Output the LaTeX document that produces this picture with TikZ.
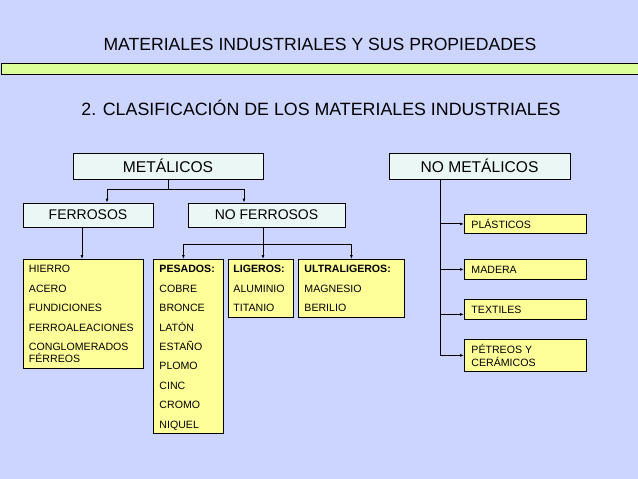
\documentclass[tikz,border=0pt]{standalone}
\usepackage{fontspec}
\setmainfont{Liberation Sans}
\usetikzlibrary{arrows.meta}
\definecolor{fondo}{RGB}{204,213,255}
\definecolor{caja}{RGB}{234,247,245}
\definecolor{amarillo}{RGB}{255,255,153}
\definecolor{barra}{RGB}{221,255,153}
\tikzset{
  grupo/.style={draw, thick, fill=caja, font=\fontsize{14}{16}\selectfont, inner sep=0pt},
  lista/.style={draw, thick, fill=amarillo, anchor=north west, inner sep=0pt},
  listatexto/.style={anchor=north west, align=left, inner sep=0pt, font=\fontsize{10.6}{19.4}\selectfont},
  flecha/.style={-{Latex[length=4pt,width=3pt]}},
}
\begin{document}
\begin{tikzpicture}[x=1pt, y=-1pt, line width=0.9pt]
  % fondo y marco
  \fill[fondo] (0,0) rectangle (638,479);
  \useasboundingbox (0,0) rectangle (638,479);

  % titulos
  \node[font=\fontsize{17.6}{20}\selectfont] (titulo) at (320,44) {MATERIALES INDUSTRIALES Y SUS PROPIEDADES};
  \draw[thick, fill=barra] (1,63) rectangle (645,74);
  \node[font=\fontsize{17.8}{20}\selectfont] (subtitulo) at (321,108) {2. CLASIFICACIÓN DE LOS MATERIALES INDUSTRIALES};

  % cajas principales
  \node[grupo, minimum width=190, minimum height=26, font=\fontsize{15.6}{18}\selectfont] (met) at (168,166) {METÁLICOS};
  \node[grupo, minimum width=181, minimum height=26, font=\fontsize{15.6}{18}\selectfont] (nomet) at (479.5,166) {NO METÁLICOS};
  \node[grupo, minimum width=130, minimum height=24] (fer) at (88,215) {FERROSOS};
  \node[grupo, minimum width=157, minimum height=24] (noferr) at (266.5,215) {NO FERROSOS};

  % listas de metales
  \node[lista, minimum width=120, minimum height=109] (hierro) at (23,259) {};
  \node[listatexto] at ([xshift=5.5, yshift=-6]hierro.north west)
    {HIERRO\\ACERO\\FUNDICIONES\\FERROALEACIONES\\CONGLOMERADOS\\[-7.4pt]FÉRREOS};
  \node[lista, minimum width=70, minimum height=174] (pesados) at (153,259) {};
  \node[listatexto] at ([xshift=6, yshift=-6]pesados.north west)
    {\textbf{PESADOS:}\\COBRE\\BRONCE\\LATÓN\\ESTAÑO\\PLOMO\\CINC\\CROMO\\NIQUEL};
  \node[lista, minimum width=65, minimum height=58] (ligeros) at (228,259) {};
  \node[listatexto] at ([xshift=5, yshift=-6]ligeros.north west)
    {\textbf{LIGEROS:}\\ALUMINIO\\TITANIO};
  \node[lista, minimum width=106, minimum height=58] (ultra) at (298,259) {};
  \node[listatexto] at ([xshift=6, yshift=-6]ultra.north west)
    {\textbf{ULTRALIGEROS:}\\MAGNESIO\\BERILIO};

  % no metalicos
  \node[lista, minimum width=122, minimum height=19] (plasticos) at (464,214) {};
  \node[listatexto, anchor=west] at ([xshift=7]plasticos.west) {PLÁSTICOS};
  \node[lista, minimum width=122, minimum height=20] (madera) at (464,259) {};
  \node[listatexto, anchor=west] at ([xshift=7]madera.west) {MADERA};
  \node[lista, minimum width=122, minimum height=20] (textiles) at (464,299) {};
  \node[listatexto, anchor=west] at ([xshift=7]textiles.west) {TEXTILES};
  \node[lista, minimum width=122, minimum height=32] (petreos) at (464,339) {};
  \node[listatexto, anchor=west, font=\fontsize{10.6}{12.5}\selectfont] at ([xshift=7]petreos.west) {PÉTREOS Y\\CERÁMICOS};

  % conexiones
  \coordinate (m1) at ([yshift=-10]met.south);
  \draw (met.south) -- (m1);
  \draw[flecha] (m1) -| ([xshift=19]fer.north);
  \draw[flecha] (m1) -| ([xshift=-22.5]noferr.north);
  \draw[flecha] ([xshift=-6]fer.south) -- ([xshift=-6]fer.south |- hierro.north);
  \coordinate (n1) at ([xshift=-3.5]noferr.south);
  \draw[flecha] (n1) -- (n1 |- ligeros.north);
  \coordinate (n2) at ([yshift=-17]n1);
  \draw[flecha] (n2) -| ([xshift=-5]pesados.north);
  \draw[flecha] (n2) -| (ultra.north);
  \coordinate (v) at ([xshift=-39.5]nomet.south);
  \draw[flecha] (v) |- (petreos.west);
  \draw[flecha] (v |- plasticos.west) -- (plasticos.west);
  \draw[flecha] (v |- madera.west) -- (madera.west);
  \draw[flecha] ([yshift=-5]v |- textiles.west) -- ([yshift=-5]textiles.west);
\end{tikzpicture}
\end{document}
